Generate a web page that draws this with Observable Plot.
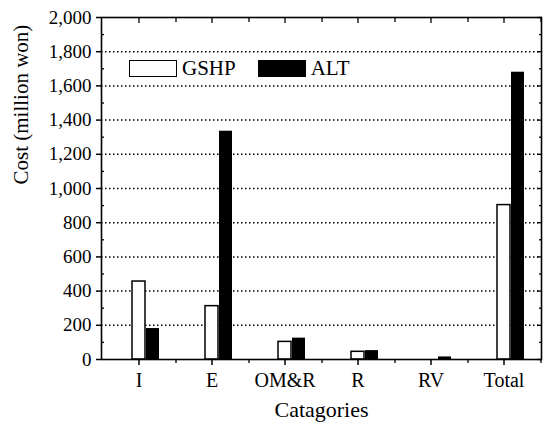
<!DOCTYPE html>
<html><head><meta charset="utf-8">
<script src="https://cdn.jsdelivr.net/npm/d3@7"></script>
<script src="https://cdn.jsdelivr.net/npm/@observablehq/plot@0.6"></script>
<style>
body{margin:0;background:#fff;font-family:'Liberation Serif',serif;}
#wrap{position:relative;width:548px;height:424px;}
#legend{position:absolute;left:129px;top:56px;height:24px;line-height:24px;display:flex;align-items:center;font-size:21px;color:#000;font-family:'Liberation Serif',serif;z-index:2;}
.sw{width:48px;height:17px;border:1.5px solid #000;box-sizing:border-box;margin-right:5px;}
</style></head>
<body><div id="wrap"><div id="legend">
<div class="sw" style="background:#fff"></div><span style="margin-right:22px">GSHP</span>
<div class="sw" style="background:#000"></div><span>ALT</span>
</div></div>
<script>
const categories = ["I","E","OM&R","R","RV","Total"];
const gshp = [456, 312, 103, 45, 0, 903];
const alt = [181, 1335, 125, 52, 15, 1680];
const yTicks = [0,200,400,600,800,1000,1200,1400,1600,1800,2000];
const yMinor = [100,300,500,700,900,1100,1300,1500,1700,1900];
const gridVals = [200,400,600,800,1000,1200,1400,1600,1800];

const g = categories.map((c,i)=>({cat:c, v:gshp[i]}));
const a = categories.map((c,i)=>({cat:c, v:alt[i]}));
const fmt = d3.format(",");
const ff = "Liberation Serif";

const chart = Plot.plot({
  width: 548, height: 424,
  marginLeft: 101, marginRight: 7, marginTop: 17, marginBottom: 65,
  style: {fontSize: "16px", color: "#000", background: "#fff", overflow: "visible"},
  x: {domain: categories, padding: 0, label: null},
  y: {domain: [0,2000], label: null},
  marks: [
    Plot.ruleY(gridVals, {y: d => d, stroke: "black", strokeDasharray: "1.5,2.5", strokeWidth: 1.5}),
    Plot.barY(g, {x: "cat", y: "v", insetLeft: 30, insetRight: 30, fill: "#fff", stroke: "#000", strokeWidth: 1.5}),
    Plot.barY(a, {x: "cat", y: "v", insetLeft: 44, insetRight: 16, fill: "#000"}),
    Plot.axisY({ticks: yTicks, tickFormat: fmt, tickSize: 5, tickPadding: 5, fontSize: 19, stroke: "#000", strokeWidth: 1.5, fill: "#000"}),
    Plot.axisY({ticks: yMinor, tickSize: -3, text: null, stroke: "#000", strokeWidth: 1.3}),
    Plot.axisY({anchor: "right", ticks: yTicks, tickSize: -5, text: null, stroke: "#000", strokeWidth: 1.3}),
    Plot.axisY({anchor: "right", ticks: yMinor, tickSize: -3, text: null, stroke: "#000", strokeWidth: 1.3}),
    Plot.axisX({tickSize: 6, tickPadding: 7, fontSize: 20, stroke: "#000", strokeWidth: 1.5, fill: "#000"}),
    Plot.axisX({tickSize: 4, text: null, dx: 37, stroke: "#000", strokeWidth: 1.3}),
    Plot.axisX({anchor: "top", tickSize: -5, text: null, stroke: "#000", strokeWidth: 1.3}),
    Plot.axisX({anchor: "top", tickSize: -4, text: null, dx: 37, stroke: "#000", strokeWidth: 1.3}),
    Plot.frame({stroke: "#000", strokeWidth: 1.6}),
    Plot.text(["Catagories"], {frameAnchor: "bottom", dy: 57, fontSize: 22, fill: "#000"}),
    Plot.text(["Cost (million won)"], {frameAnchor: "left", dx: -80, dy: -4, rotate: -90, fontSize: 21, fill: "#000"})
  ]
});
chart.setAttribute("font-family", ff);
chart.querySelectorAll("text, g").forEach(t => { t.setAttribute("font-family", ff); t.style.fontFamily = ff; });
chart.style.position = "absolute"; chart.style.left = "0"; chart.style.top = "0";
document.getElementById("wrap").prepend(chart);
</script></body></html>
